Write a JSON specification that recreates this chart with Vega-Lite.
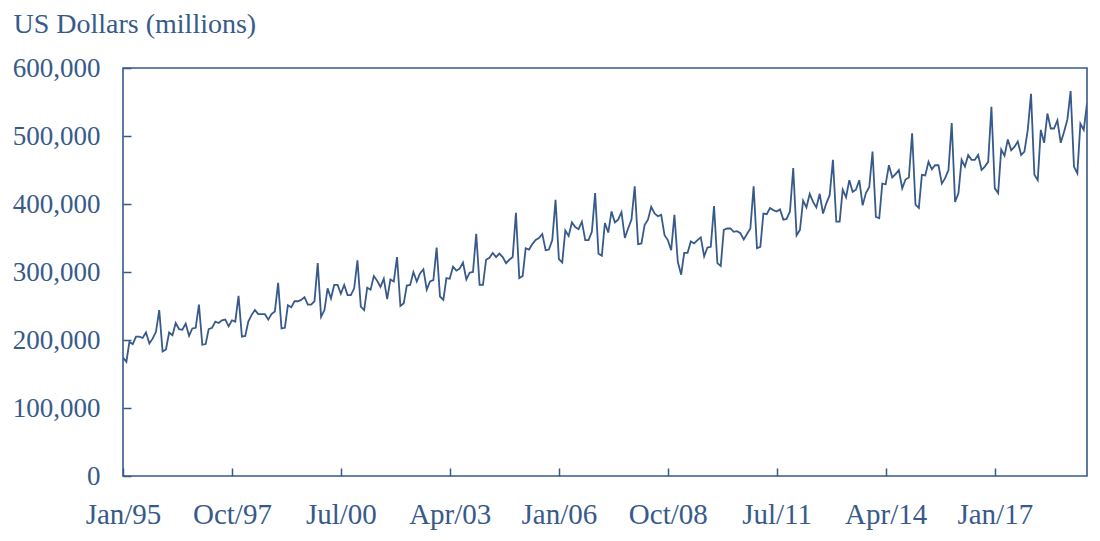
{
  "$schema": "https://vega.github.io/schema/vega-lite/v6.json",
  "width": 964,
  "height": 408,
  "autosize": {"type": "none"},
  "padding": {"left": 123, "top": 68, "right": 13, "bottom": 65},
  "background": "white",
  "data": {"values": [
    {"d":"1995-01-01","v":174000},{"d":"1995-02-01","v":168000},{"d":"1995-03-01","v":197000},{"d":"1995-04-01","v":194000},{"d":"1995-05-01","v":205000},{"d":"1995-06-01","v":205000},{"d":"1995-07-01","v":203000},{"d":"1995-08-01","v":211000},{"d":"1995-09-01","v":195000},{"d":"1995-10-01","v":202000},{"d":"1995-11-01","v":212000},{"d":"1995-12-01","v":244000},
    {"d":"1996-01-01","v":183000},{"d":"1996-02-01","v":186000},{"d":"1996-03-01","v":211000},{"d":"1996-04-01","v":207000},{"d":"1996-05-01","v":225000},{"d":"1996-06-01","v":216000},{"d":"1996-07-01","v":215000},{"d":"1996-08-01","v":224000},{"d":"1996-09-01","v":206000},{"d":"1996-10-01","v":217000},{"d":"1996-11-01","v":218000},{"d":"1996-12-01","v":252000},
    {"d":"1997-01-01","v":193000},{"d":"1997-02-01","v":194000},{"d":"1997-03-01","v":216000},{"d":"1997-04-01","v":218000},{"d":"1997-05-01","v":227000},{"d":"1997-06-01","v":225000},{"d":"1997-07-01","v":229000},{"d":"1997-08-01","v":230000},{"d":"1997-09-01","v":220000},{"d":"1997-10-01","v":229000},{"d":"1997-11-01","v":227000},{"d":"1997-12-01","v":265000},
    {"d":"1998-01-01","v":205000},{"d":"1998-02-01","v":206000},{"d":"1998-03-01","v":227000},{"d":"1998-04-01","v":237000},{"d":"1998-05-01","v":244000},{"d":"1998-06-01","v":238000},{"d":"1998-07-01","v":238000},{"d":"1998-08-01","v":238000},{"d":"1998-09-01","v":230000},{"d":"1998-10-01","v":238000},{"d":"1998-11-01","v":242000},{"d":"1998-12-01","v":284000},
    {"d":"1999-01-01","v":217000},{"d":"1999-02-01","v":218000},{"d":"1999-03-01","v":251000},{"d":"1999-04-01","v":248000},{"d":"1999-05-01","v":257000},{"d":"1999-06-01","v":257000},{"d":"1999-07-01","v":259000},{"d":"1999-08-01","v":263000},{"d":"1999-09-01","v":252000},{"d":"1999-10-01","v":252000},{"d":"1999-11-01","v":257000},{"d":"1999-12-01","v":313000},
    {"d":"2000-01-01","v":234000},{"d":"2000-02-01","v":244000},{"d":"2000-03-01","v":276000},{"d":"2000-04-01","v":261000},{"d":"2000-05-01","v":281000},{"d":"2000-06-01","v":281000},{"d":"2000-07-01","v":268000},{"d":"2000-08-01","v":281000},{"d":"2000-09-01","v":266000},{"d":"2000-10-01","v":266000},{"d":"2000-11-01","v":276000},{"d":"2000-12-01","v":317000},
    {"d":"2001-01-01","v":249000},{"d":"2001-02-01","v":244000},{"d":"2001-03-01","v":277000},{"d":"2001-04-01","v":274000},{"d":"2001-05-01","v":294000},{"d":"2001-06-01","v":287000},{"d":"2001-07-01","v":278000},{"d":"2001-08-01","v":290000},{"d":"2001-09-01","v":260000},{"d":"2001-10-01","v":289000},{"d":"2001-11-01","v":286000},{"d":"2001-12-01","v":322000},
    {"d":"2002-01-01","v":250000},{"d":"2002-02-01","v":254000},{"d":"2002-03-01","v":280000},{"d":"2002-04-01","v":281000},{"d":"2002-05-01","v":300000},{"d":"2002-06-01","v":286000},{"d":"2002-07-01","v":298000},{"d":"2002-08-01","v":304000},{"d":"2002-09-01","v":274000},{"d":"2002-10-01","v":286000},{"d":"2002-11-01","v":288000},{"d":"2002-12-01","v":336000},
    {"d":"2003-01-01","v":264000},{"d":"2003-02-01","v":259000},{"d":"2003-03-01","v":291000},{"d":"2003-04-01","v":290000},{"d":"2003-05-01","v":308000},{"d":"2003-06-01","v":302000},{"d":"2003-07-01","v":305000},{"d":"2003-08-01","v":314000},{"d":"2003-09-01","v":289000},{"d":"2003-10-01","v":299000},{"d":"2003-11-01","v":300000},{"d":"2003-12-01","v":356000},
    {"d":"2004-01-01","v":281000},{"d":"2004-02-01","v":281000},{"d":"2004-03-01","v":318000},{"d":"2004-04-01","v":321000},{"d":"2004-05-01","v":328000},{"d":"2004-06-01","v":322000},{"d":"2004-07-01","v":327000},{"d":"2004-08-01","v":322000},{"d":"2004-09-01","v":313000},{"d":"2004-10-01","v":318000},{"d":"2004-11-01","v":322000},{"d":"2004-12-01","v":387000},
    {"d":"2005-01-01","v":291000},{"d":"2005-02-01","v":294000},{"d":"2005-03-01","v":335000},{"d":"2005-04-01","v":333000},{"d":"2005-05-01","v":341000},{"d":"2005-06-01","v":347000},{"d":"2005-07-01","v":350000},{"d":"2005-08-01","v":356000},{"d":"2005-09-01","v":332000},{"d":"2005-10-01","v":333000},{"d":"2005-11-01","v":347000},{"d":"2005-12-01","v":406000},
    {"d":"2006-01-01","v":319000},{"d":"2006-02-01","v":314000},{"d":"2006-03-01","v":361000},{"d":"2006-04-01","v":353000},{"d":"2006-05-01","v":373000},{"d":"2006-06-01","v":366000},{"d":"2006-07-01","v":363000},{"d":"2006-08-01","v":374000},{"d":"2006-09-01","v":347000},{"d":"2006-10-01","v":347000},{"d":"2006-11-01","v":359000},{"d":"2006-12-01","v":416000},
    {"d":"2007-01-01","v":327000},{"d":"2007-02-01","v":324000},{"d":"2007-03-01","v":372000},{"d":"2007-04-01","v":358000},{"d":"2007-05-01","v":389000},{"d":"2007-06-01","v":373000},{"d":"2007-07-01","v":377000},{"d":"2007-08-01","v":388000},{"d":"2007-09-01","v":350000},{"d":"2007-10-01","v":364000},{"d":"2007-11-01","v":377000},{"d":"2007-12-01","v":426000},
    {"d":"2008-01-01","v":341000},{"d":"2008-02-01","v":342000},{"d":"2008-03-01","v":369000},{"d":"2008-04-01","v":377000},{"d":"2008-05-01","v":396000},{"d":"2008-06-01","v":386000},{"d":"2008-07-01","v":382000},{"d":"2008-08-01","v":384000},{"d":"2008-09-01","v":354000},{"d":"2008-10-01","v":347000},{"d":"2008-11-01","v":332000},{"d":"2008-12-01","v":384000},
    {"d":"2009-01-01","v":315000},{"d":"2009-02-01","v":296000},{"d":"2009-03-01","v":328000},{"d":"2009-04-01","v":328000},{"d":"2009-05-01","v":345000},{"d":"2009-06-01","v":342000},{"d":"2009-07-01","v":347000},{"d":"2009-08-01","v":351000},{"d":"2009-09-01","v":323000},{"d":"2009-10-01","v":336000},{"d":"2009-11-01","v":337000},{"d":"2009-12-01","v":397000},
    {"d":"2010-01-01","v":313000},{"d":"2010-02-01","v":309000},{"d":"2010-03-01","v":362000},{"d":"2010-04-01","v":364000},{"d":"2010-05-01","v":364000},{"d":"2010-06-01","v":359000},{"d":"2010-07-01","v":360000},{"d":"2010-08-01","v":357000},{"d":"2010-09-01","v":348000},{"d":"2010-10-01","v":356000},{"d":"2010-11-01","v":364000},{"d":"2010-12-01","v":426000},
    {"d":"2011-01-01","v":335000},{"d":"2011-02-01","v":337000},{"d":"2011-03-01","v":386000},{"d":"2011-04-01","v":385000},{"d":"2011-05-01","v":394000},{"d":"2011-06-01","v":391000},{"d":"2011-07-01","v":389000},{"d":"2011-08-01","v":392000},{"d":"2011-09-01","v":377000},{"d":"2011-10-01","v":378000},{"d":"2011-11-01","v":389000},{"d":"2011-12-01","v":453000},
    {"d":"2012-01-01","v":354000},{"d":"2012-02-01","v":362000},{"d":"2012-03-01","v":405000},{"d":"2012-04-01","v":395000},{"d":"2012-05-01","v":415000},{"d":"2012-06-01","v":403000},{"d":"2012-07-01","v":395000},{"d":"2012-08-01","v":415000},{"d":"2012-09-01","v":386000},{"d":"2012-10-01","v":401000},{"d":"2012-11-01","v":413000},{"d":"2012-12-01","v":465000},
    {"d":"2013-01-01","v":374000},{"d":"2013-02-01","v":374000},{"d":"2013-03-01","v":421000},{"d":"2013-04-01","v":410000},{"d":"2013-05-01","v":435000},{"d":"2013-06-01","v":418000},{"d":"2013-07-01","v":421000},{"d":"2013-08-01","v":435000},{"d":"2013-09-01","v":398000},{"d":"2013-10-01","v":416000},{"d":"2013-11-01","v":425000},{"d":"2013-12-01","v":477000},
    {"d":"2014-01-01","v":381000},{"d":"2014-02-01","v":379000},{"d":"2014-03-01","v":430000},{"d":"2014-04-01","v":429000},{"d":"2014-05-01","v":457000},{"d":"2014-06-01","v":439000},{"d":"2014-07-01","v":444000},{"d":"2014-08-01","v":450000},{"d":"2014-09-01","v":423000},{"d":"2014-10-01","v":436000},{"d":"2014-11-01","v":439000},{"d":"2014-12-01","v":504000},
    {"d":"2015-01-01","v":399000},{"d":"2015-02-01","v":394000},{"d":"2015-03-01","v":443000},{"d":"2015-04-01","v":442000},{"d":"2015-05-01","v":462000},{"d":"2015-06-01","v":451000},{"d":"2015-07-01","v":457000},{"d":"2015-08-01","v":457000},{"d":"2015-09-01","v":430000},{"d":"2015-10-01","v":438000},{"d":"2015-11-01","v":450000},{"d":"2015-12-01","v":519000},
    {"d":"2016-01-01","v":403000},{"d":"2016-02-01","v":416000},{"d":"2016-03-01","v":465000},{"d":"2016-04-01","v":455000},{"d":"2016-05-01","v":472000},{"d":"2016-06-01","v":465000},{"d":"2016-07-01","v":465000},{"d":"2016-08-01","v":472000},{"d":"2016-09-01","v":450000},{"d":"2016-10-01","v":455000},{"d":"2016-11-01","v":462000},{"d":"2016-12-01","v":543000},
    {"d":"2017-01-01","v":423000},{"d":"2017-02-01","v":416000},{"d":"2017-03-01","v":480000},{"d":"2017-04-01","v":471000},{"d":"2017-05-01","v":495000},{"d":"2017-06-01","v":479000},{"d":"2017-07-01","v":484000},{"d":"2017-08-01","v":492000},{"d":"2017-09-01","v":472000},{"d":"2017-10-01","v":477000},{"d":"2017-11-01","v":509000},{"d":"2017-12-01","v":562000},
    {"d":"2018-01-01","v":443000},{"d":"2018-02-01","v":435000},{"d":"2018-03-01","v":509000},{"d":"2018-04-01","v":490000},{"d":"2018-05-01","v":533000},{"d":"2018-06-01","v":511000},{"d":"2018-07-01","v":511000},{"d":"2018-08-01","v":523000},{"d":"2018-09-01","v":490000},{"d":"2018-10-01","v":506000},{"d":"2018-11-01","v":524000},{"d":"2018-12-01","v":566000},
    {"d":"2019-01-01","v":455000},{"d":"2019-02-01","v":445000},{"d":"2019-03-01","v":518000},{"d":"2019-04-01","v":509000},{"d":"2019-05-01","v":548000}
  ]},
  "mark": {"type": "line", "color": "#375a8a", "strokeWidth": 1.8, "clip": true},
  "encoding": {
    "x": {
      "field": "d", "type": "temporal",
      "scale": {"type": "utc", "nice": false, "domain": [{"year": 1995, "month": 1, "date": 1, "utc": true}, {"year": 2019, "month": 5, "date": 1, "utc": true}]},
      "axis": {
        "title": null,
        "format": "%b/%y",
        "values": [
          {"year": 1995, "month": 1, "date": 1, "utc": true},
          {"year": 1997, "month": 10, "date": 1, "utc": true},
          {"year": 2000, "month": 7, "date": 1, "utc": true},
          {"year": 2003, "month": 4, "date": 1, "utc": true},
          {"year": 2006, "month": 1, "date": 1, "utc": true},
          {"year": 2008, "month": 10, "date": 1, "utc": true},
          {"year": 2011, "month": 7, "date": 1, "utc": true},
          {"year": 2014, "month": 4, "date": 1, "utc": true},
          {"year": 2017, "month": 1, "date": 1, "utc": true}
        ],
        "grid": false,
        "domain": false,
        "offset": -8,
        "ticks": true,
        "tickSize": 8,
        "tickColor": "#375a8a",
        "tickWidth": 1.5,
        "labelFont": "Liberation Serif",
        "labelFontSize": 29,
        "labelColor": "#375a8a",
        "labelBaseline": "alphabetic",
        "labelPadding": 47,
        "labelFlush": false,
        "labelOverlap": false
      }
    },
    "y": {
      "field": "v", "type": "quantitative",
      "scale": {"domain": [0, 600000], "nice": false, "zero": true},
      "axis": {
        "title": "US Dollars (millions)",
        "titleAngle": 0,
        "titleAlign": "left",
        "titleBaseline": "alphabetic",
        "titleX": -118,
        "titleY": -36,
        "titleFont": "Liberation Serif",
        "titleFontSize": 28,
        "titleFontWeight": "normal",
        "titleColor": "#375a8a",
        "values": [0, 100000, 200000, 300000, 400000, 500000, 600000],
        "format": ",.0f",
        "grid": false,
        "domain": false,
        "offset": -8,
        "ticks": true,
        "tickSize": 8,
        "tickColor": "#375a8a",
        "tickWidth": 1.5,
        "labelFont": "Liberation Serif",
        "labelFontSize": 27,
        "labelColor": "#375a8a",
        "labelBaseline": "middle",
        "labelPadding": 23,
        "labelOverlap": false
      }
    }
  },
  "config": {
    "view": {"stroke": "#375a8a", "strokeWidth": 1.6},
    "font": "Liberation Serif"
  }
}
